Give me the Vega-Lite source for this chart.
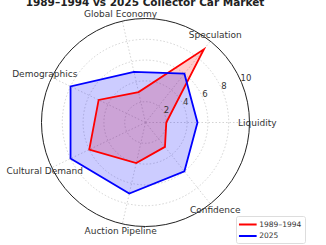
{
  "$schema": "https://vega.github.io/schema/vega-lite/v6.json",
  "width": 326,
  "height": 245,
  "padding": 0,
  "autosize": "none",
  "background": "white",
  "title": {"text": "1989–1994 vs 2025 Collector Car Market", "font": "DejaVu Sans", "fontSize": 10.5, "fontWeight": "bold", "color": "#222222", "anchor": "middle", "dx": -18, "offset": 0, "dy": 8},
  "config": {"view": {"stroke": null}, "text": {"font": "DejaVu Sans"}},
  "datasets": {
    "series": [
      {"axis": "Liquidity", "k": 0, "period": "1989–1994", "value": 2},
      {"axis": "Speculation", "k": 1, "period": "1989–1994", "value": 9},
      {"axis": "Global Economy", "k": 2, "period": "1989–1994", "value": 3},
      {"axis": "Demographics", "k": 3, "period": "1989–1994", "value": 5},
      {"axis": "Cultural Demand", "k": 4, "period": "1989–1994", "value": 6},
      {"axis": "Auction Pipeline", "k": 5, "period": "1989–1994", "value": 4},
      {"axis": "Confidence", "k": 6, "period": "1989–1994", "value": 3},
      {"axis": "Liquidity", "k": 0, "period": "2025", "value": 5},
      {"axis": "Speculation", "k": 1, "period": "2025", "value": 6},
      {"axis": "Global Economy", "k": 2, "period": "2025", "value": 5},
      {"axis": "Demographics", "k": 3, "period": "2025", "value": 8},
      {"axis": "Cultural Demand", "k": 4, "period": "2025", "value": 8},
      {"axis": "Auction Pipeline", "k": 5, "period": "2025", "value": 7},
      {"axis": "Confidence", "k": 6, "period": "2025", "value": 6}
    ],
    "axes": [
      {"axis": "Liquidity", "k": 0},
      {"axis": "Speculation", "k": 1},
      {"axis": "Global Economy", "k": 2},
      {"axis": "Demographics", "k": 3},
      {"axis": "Cultural Demand", "k": 4},
      {"axis": "Auction Pipeline", "k": 5},
      {"axis": "Confidence", "k": 6}
    ],
    "rings": [
      {"level": 2}, {"level": 4}, {"level": 6}, {"level": 8}, {"level": 10}
    ]
  },
  "layer": [
    {
      "data": {"name": "rings"},
      "transform": [{"filter": "datum.level < 10"}, {"calculate": "0", "as": "cx"}, {"calculate": "0", "as": "cy"}],
      "mark": {"type": "point", "shape": "circle", "filled": false, "stroke": "#c8c8c8", "strokeWidth": 0.8, "strokeDash": [1.5, 2], "opacity": 1},
      "encoding": {
        "x": {"field": "cx", "type": "quantitative", "scale": {"domain": [-13.99, 17.356], "nice": false, "zero": false}, "axis": null},
        "y": {"field": "cy", "type": "quantitative", "scale": {"domain": [-11.779, 11.779], "nice": false, "zero": false}, "axis": null},
        "size": {"field": "level", "type": "quantitative", "scale": {"type": "pow", "exponent": 2, "domain": [0, 10], "range": [0, 43264]}, "legend": null}
      }
    },
    {
      "data": {"name": "axes"},
      "transform": [
        {"calculate": "0", "as": "cx"},
        {"calculate": "0", "as": "cy"},
        {"calculate": "10*cos(datum.k*2*PI/7)", "as": "ax"},
        {"calculate": "10*sin(datum.k*2*PI/7)", "as": "ay"}
      ],
      "mark": {"type": "rule", "stroke": "#c8c8c8", "strokeWidth": 0.8, "strokeDash": [1.5, 2]},
      "encoding": {
        "x": {"field": "cx", "type": "quantitative", "scale": {"domain": [-13.99, 17.356], "nice": false, "zero": false}, "axis": null},
        "y": {"field": "cy", "type": "quantitative", "scale": {"domain": [-11.779, 11.779], "nice": false, "zero": false}, "axis": null},
        "x2": {"field": "ax"},
        "y2": {"field": "ay"}
      }
    },
    {
      "data": {"name": "rings"},
      "transform": [{"filter": "datum.level == 10"}, {"calculate": "0", "as": "cx"}, {"calculate": "0", "as": "cy"}],
      "mark": {"type": "point", "shape": "circle", "filled": false, "stroke": "#222222", "strokeWidth": 1, "opacity": 1},
      "encoding": {
        "x": {"field": "cx", "type": "quantitative", "scale": {"domain": [-13.99, 17.356], "nice": false, "zero": false}, "axis": null},
        "y": {"field": "cy", "type": "quantitative", "scale": {"domain": [-11.779, 11.779], "nice": false, "zero": false}, "axis": null},
        "size": {"field": "level", "type": "quantitative", "scale": {"type": "pow", "exponent": 2, "domain": [0, 10], "range": [0, 43264]}, "legend": null}
      }
    },
    {
      "data": {"name": "series"},
      "transform": [
        {"filter": "datum.period == '1989–1994'"},
        {"calculate": "datum.value*cos(datum.k*2*PI/7)", "as": "px"},
        {"calculate": "datum.value*sin(datum.k*2*PI/7)", "as": "py"}
      ],
      "mark": {"type": "line", "interpolate": "linear-closed", "strokeWidth": 0, "strokeOpacity": 0, "fill": "#ff0000", "fillOpacity": 0.2},
      "encoding": {
        "x": {"field": "px", "type": "quantitative", "scale": {"domain": [-13.99, 17.356], "nice": false, "zero": false}, "axis": null},
        "y": {"field": "py", "type": "quantitative", "scale": {"domain": [-11.779, 11.779], "nice": false, "zero": false}, "axis": null},
        "order": {"field": "k", "type": "quantitative"}
      }
    },
    {
      "data": {"name": "series"},
      "transform": [
        {"filter": "datum.period == '2025'"},
        {"calculate": "datum.value*cos(datum.k*2*PI/7)", "as": "px"},
        {"calculate": "datum.value*sin(datum.k*2*PI/7)", "as": "py"}
      ],
      "mark": {"type": "line", "interpolate": "linear-closed", "strokeWidth": 0, "strokeOpacity": 0, "fill": "#0000ff", "fillOpacity": 0.2},
      "encoding": {
        "x": {"field": "px", "type": "quantitative", "scale": {"domain": [-13.99, 17.356], "nice": false, "zero": false}, "axis": null},
        "y": {"field": "py", "type": "quantitative", "scale": {"domain": [-11.779, 11.779], "nice": false, "zero": false}, "axis": null},
        "order": {"field": "k", "type": "quantitative"}
      }
    },
    {
      "data": {"name": "series"},
      "transform": [
        {"calculate": "datum.value*cos(datum.k*2*PI/7)", "as": "px"},
        {"calculate": "datum.value*sin(datum.k*2*PI/7)", "as": "py"}
      ],
      "mark": {"type": "line", "interpolate": "linear-closed", "strokeWidth": 1.8, "strokeJoin": "miter"},
      "encoding": {
        "x": {"field": "px", "type": "quantitative", "scale": {"domain": [-13.99, 17.356], "nice": false, "zero": false}, "axis": null},
        "y": {"field": "py", "type": "quantitative", "scale": {"domain": [-11.779, 11.779], "nice": false, "zero": false}, "axis": null},
        "order": {"field": "k", "type": "quantitative"},
        "color": {"field": "period", "type": "nominal", "scale": {"domain": ["1989–1994", "2025"], "range": ["#ff0000", "#0000ff"]},
          "legend": {"orient": "none", "legendX": 236, "legendY": 216, "title": null, "symbolType": "M-2,0H2", "symbolSize": 78, "symbolOffset": 3.3, "symbolStrokeWidth": 2, "labelFontSize": 7.5, "labelFont": "DejaVu Sans", "labelColor": "#333333", "labelOffset": 6, "padding": 3, "rowPadding": 1.5, "strokeColor": "#dddddd", "fillColor": "white", "cornerRadius": 2}}
      }
    },
    {
      "data": {"name": "axes"},
      "transform": [
        {"calculate": "10.75*cos(datum.k*2*PI/7)", "as": "lx"},
        {"calculate": "10.75*sin(datum.k*2*PI/7)", "as": "ly"}
      ],
      "mark": {"type": "text", "fontSize": 9, "color": "#333333", "align": "center", "baseline": "middle"},
      "encoding": {
        "x": {"field": "lx", "type": "quantitative", "scale": {"domain": [-13.99, 17.356], "nice": false, "zero": false}, "axis": null},
        "y": {"field": "ly", "type": "quantitative", "scale": {"domain": [-11.779, 11.779], "nice": false, "zero": false}, "axis": null},
        "text": {"field": "axis", "type": "nominal"}
      }
    },
    {
      "data": {"name": "rings"},
      "transform": [
        {"calculate": "datum.level*cos(PI/8)", "as": "tx"},
        {"calculate": "datum.level*sin(PI/8)", "as": "ty"}
      ],
      "mark": {"type": "text", "fontSize": 8.5, "color": "#333333", "align": "left", "baseline": "bottom", "dx": -1},
      "encoding": {
        "x": {"field": "tx", "type": "quantitative", "scale": {"domain": [-13.99, 17.356], "nice": false, "zero": false}, "axis": null},
        "y": {"field": "ty", "type": "quantitative", "scale": {"domain": [-11.779, 11.779], "nice": false, "zero": false}, "axis": null},
        "text": {"field": "level", "type": "quantitative"}
      }
    }
  ]
}
